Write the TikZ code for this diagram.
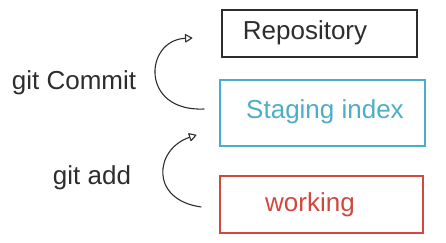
\documentclass[tikz,border=0pt]{standalone}
\usepackage{fontspec}
\setmainfont{Liberation Sans}
\usetikzlibrary{calc}
\usetikzlibrary{arrows.meta}
\usetikzlibrary{positioning}

\definecolor{inkgray}{RGB}{45,45,45}
\definecolor{stageblue}{RGB}{75,174,196}
\definecolor{workred}{RGB}{208,72,62}

\begin{document}
\begin{tikzpicture}[x=1pt,y=-1pt,
    area/.style={draw, line width=1.2pt, rectangle, inner sep=0pt},
    label/.style={font=\fontsize{26}{30}\selectfont, inner sep=0pt}]
    \tikzset{gitarrow/.style={draw=inkgray, line width=1.1pt, -{Triangle[open,round,length=8pt,width=9pt]}}}
    \useasboundingbox (0,0) rectangle (446,242);

    % the three areas, top to bottom
    \node[area, draw=inkgray, minimum width=195pt, minimum height=47pt] (repo) at (319.5,33.5) {};
    \node[area, draw=stageblue, minimum width=205pt, minimum height=66pt] (staging) at (322.5,113) {};
    \node[area, draw=workred, minimum width=203pt, minimum height=57pt] (working) at (321.5,204.5) {};

    \node[label, text=inkgray] (repotext) at (305,33) {Repository};
    \node[label, text=stageblue] (stagetext) at (325,112) {Staging index};
    \node[label, text=workred] (worktext) at (310,205) {working};

    % commands
    \node[label, text=inkgray] (commit) at (74,83) {git Commit};
    \node[label, text=inkgray] (add) at (92,178) {git add};

    \coordinate (commit from) at ($(staging.west)+(-15,-4)$);
    \coordinate (commit to) at ($(repo.west)+(-29,4.5)$);
    \coordinate (add from) at ($(working.west)+(-18,2.5)$);
    \coordinate (add to) at ($(staging.west)+(-23,22)$);

    \draw[gitarrow] (commit from) .. controls +(-65,3) and +(-48,2) .. (commit to);
    \draw[gitarrow] (add from) .. controls +(-52,-7) and +(-42,14) .. (add to);
\end{tikzpicture}
\end{document}
